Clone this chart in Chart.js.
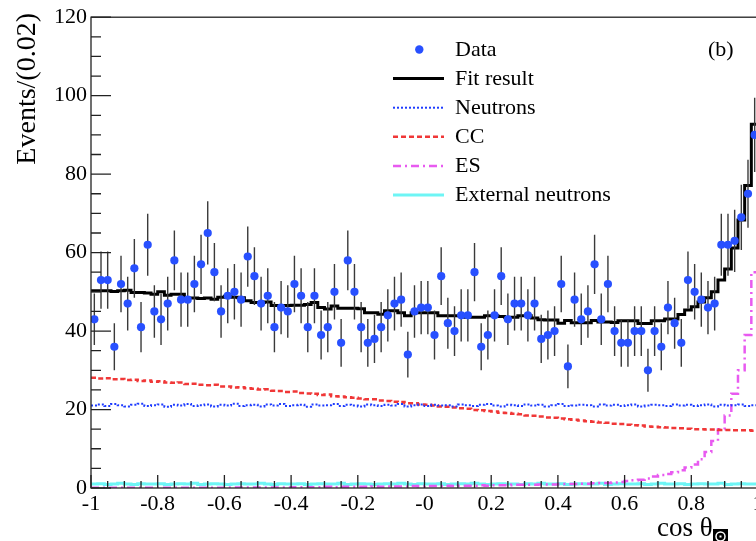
<!DOCTYPE html>
<html>
<head>
<meta charset="utf-8">
<title>cos theta sun distribution</title>
<script src="https://cdn.jsdelivr.net/npm/chart.js@4.4.1/dist/chart.umd.min.js"></script>
<style>
    html, body { margin: 0; padding: 0; background: #fff; overflow: hidden; }
    #wrap { width: 756px; height: 541px; overflow: hidden; }
</style>
</head>
<body>
<div id="wrap"><canvas id="chart" width="770" height="541"></canvas></div>
<script>
// histogram binning
const xMin = -1;
const xMax = 1;
const binWidth = 0.02;

// data points (events per bin)
const dataCounts = [
    43, 53, 53, 36, 52, 47, 56, 41, 62, 45,
    43, 47, 58, 48, 48, 52, 57, 65, 55, 45,
    49, 50, 48, 59, 54, 47, 49, 41, 46, 45,
    52, 49, 41, 49, 39, 41, 50, 37, 58, 50,
    41, 37, 38, 41, 44, 47, 48, 34, 45, 46,
    46, 39, 54, 42, 40, 44, 44, 55, 36, 39,
    44, 54, 43, 47, 47, 44, 47, 38, 39, 40,
    52, 31, 48, 43, 45, 57, 43, 52, 40, 37,
    37, 40, 40, 30, 40, 36, 46, 42, 37, 53,
    50, 48, 46, 47, 62, 62, 63, 69, 75, 90
];

const fitResult = [
    50.3, 50.3, 50.3, 50.1, 50.3, 50.4, 49.8, 49.8, 49.7, 49.4,
    50.0, 49.1, 49.4, 49.4, 48.4, 48.4, 48.3, 48.4, 48.1, 48.6,
    48.9, 48.6, 48.5, 47.7, 47.3, 47.3, 47.4, 46.5, 46.5, 46.5,
    46.6, 46.6, 46.8, 47.3, 46.0, 45.6, 46.4, 45.8, 45.8, 45.8,
    45.7, 44.7, 44.7, 44.3, 45.2, 45.2, 44.7, 43.9, 44.7, 44.7,
    44.7, 44.7, 43.9, 43.9, 43.9, 43.9, 43.5, 43.5, 43.5, 43.9,
    43.9, 43.7, 43.5, 43.5, 43.9, 43.9, 43.3, 42.9, 42.8, 42.8,
    42.0, 42.7, 42.1, 42.1, 42.1, 42.7, 42.3, 42.3, 42.2, 42.6,
    42.6, 42.6, 41.9, 41.9, 42.6, 42.6, 43.1, 43.1, 44.2, 45.4,
    46.2, 47.4, 48.5, 50.0, 53.0, 55.8, 61.2, 68.3, 77.1, 92.7
];

const neutrons = [
    21.0, 21.3, 20.9, 21.4, 21.1, 20.8, 21.2, 21.5, 20.9, 21.1,
    21.3, 20.7, 21.2, 21.0, 21.4, 20.9, 21.1, 21.3, 20.8, 21.2,
    21.0, 21.5, 20.9, 21.1, 21.2, 20.8, 21.3, 21.0, 21.4, 20.9,
    21.1, 21.2, 20.7, 21.3, 21.0, 21.1, 21.4, 20.9, 21.2, 21.0,
    20.8, 21.3, 21.1, 20.9, 21.2, 21.0, 21.4, 20.8, 21.1, 21.3,
    20.9, 21.2, 21.0, 21.1, 20.8, 21.3, 21.1, 20.9, 21.2, 21.4,
    21.0, 20.8, 21.2, 21.1, 20.9, 21.3, 21.0, 21.2, 20.8, 21.1,
    21.4, 20.9, 21.0, 21.2, 21.1, 20.8, 21.3, 21.0, 21.2, 20.9,
    21.1, 21.3, 20.8, 21.0, 21.2, 21.1, 20.9, 21.3, 21.0, 21.2,
    20.9, 21.1, 21.3, 20.8, 21.2, 21.0, 21.1, 21.3, 20.9, 21.1
];

const ccEvents = [
    28.1, 27.9, 28.0, 27.7, 27.8, 27.5, 27.6, 27.3, 27.4, 27.1,
    27.2, 26.9, 26.8, 26.9, 26.5, 26.6, 26.3, 26.2, 26.3, 25.9,
    25.9, 25.6, 25.7, 25.4, 25.3, 25.1, 25.2, 24.8, 24.7, 24.5,
    24.6, 24.2, 24.1, 24.0, 23.7, 23.8, 23.4, 23.3, 23.1, 23.0,
    22.8, 22.6, 22.6, 22.3, 22.2, 22.0, 21.9, 21.6, 21.6, 21.3,
    21.2, 21.0, 20.8, 20.7, 20.5, 20.3, 20.2, 19.9, 19.8, 19.6,
    19.5, 19.2, 19.1, 18.9, 18.8, 18.5, 18.4, 18.2, 18.0, 17.9,
    17.7, 17.5, 17.4, 17.2, 17.0, 16.9, 16.7, 16.6, 16.4, 16.3,
    16.1, 16.0, 15.9, 15.7, 15.6, 15.5, 15.4, 15.3, 15.2, 15.1,
    15.0, 15.0, 14.9, 14.9, 14.8, 14.8, 14.7, 14.7, 14.7, 14.6
];

const esEvents = [
    0.05, 0.05, 0.05, 0.05, 0.05, 0.05, 0.05, 0.05, 0.05, 0.05,
    0.05, 0.05, 0.05, 0.05, 0.05, 0.05, 0.05, 0.05, 0.05, 0.05,
    0.1, 0.1, 0.1, 0.1, 0.1, 0.1, 0.1, 0.1, 0.1, 0.1,
    0.2, 0.2, 0.2, 0.2, 0.2, 0.3, 0.2, 0.3, 0.3, 0.3,
    0.3, 0.3, 0.4, 0.3, 0.4, 0.4, 0.4, 0.4, 0.5, 0.4,
    0.5, 0.5, 0.5, 0.6, 0.5, 0.6, 0.6, 0.6, 0.7, 0.6,
    0.7, 0.7, 0.7, 0.8, 0.8, 0.8, 0.8, 0.9, 0.9, 0.9,
    1.0, 1.0, 1.0, 1.1, 1.1, 1.2, 1.3, 1.3, 1.4, 1.5,
    1.8, 2.0, 2.1, 2.4, 2.9, 3.3, 3.6, 4.0, 4.5, 5.2,
    6.0, 7.3, 9.2, 12.0, 15.0, 18.5, 24.0, 30.0, 39.0, 55.0
];

const externalNeutrons = [
    1.0, 1.1, 0.9, 1.0, 1.2, 1.0, 0.9, 1.1, 1.0, 1.0,
    1.1, 0.9, 1.0, 1.1, 1.0, 1.2, 0.9, 1.0, 1.1, 1.0,
    0.9, 1.0, 1.1, 1.0, 1.0, 1.2, 1.0, 0.9, 1.1, 1.0,
    1.0, 1.1, 0.9, 1.0, 1.1, 1.0, 1.0, 1.2, 0.9, 1.0,
    1.1, 1.0, 0.9, 1.0, 1.1, 1.0, 1.2, 1.0, 0.9, 1.1,
    1.0, 1.0, 1.1, 0.9, 1.0, 1.1, 1.0, 1.2, 1.0, 0.9,
    1.0, 1.1, 1.0, 1.0, 0.9, 1.1, 1.0, 1.2, 1.0, 1.0,
    1.1, 0.9, 1.0, 1.1, 1.0, 1.0, 1.2, 0.9, 1.0, 1.1,
    1.0, 1.0, 1.1, 0.9, 1.0, 1.2, 1.0, 1.0, 1.1, 0.9,
    1.0, 1.1, 1.0, 1.0, 1.2, 0.9, 1.0, 1.1, 1.0, 1.0
];

// axis ticks
const xTickValues = [-1, -0.8, -0.6, -0.4, -0.2, 0, 0.2, 0.4, 0.6, 0.8, 1];
const xTickLabels = ['-1', '-0.8', '-0.6', '-0.4', '-0.2', '-0', '0.2', '0.4', '0.6', '0.8', '1'];
const yTickValues = [0, 20, 40, 60, 80, 100, 120];
const xMinorStep = 0.05;
const yMinorStep = 5;

const serif = "'Liberation Serif', 'Times New Roman', serif";

function binCenter(i) {
    return xMin + (i + 0.5) * binWidth;
}

// left edge of each bin, plus closing point at xMax (drawn stepped)
function histPoints(values) {
    const pts = values.map((v, i) => ({ x: xMin + i * binWidth, y: v }));
    pts.push({ x: xMax, y: values[values.length - 1] });
    return pts;
}

const histStyle = { pointRadius: 0, stepped: true, fill: false, tension: 0 };

const datasets = [
    {
        label: 'Data',
        data: dataCounts.map((v, i) => ({ x: binCenter(i), y: v })),
        showLine: false,
        pointRadius: 4.1,
        pointBackgroundColor: 'rgb(40, 80, 255)',
        pointBorderWidth: 0,
        borderColor: 'rgb(40, 80, 255)'
    },
    Object.assign({ label: 'Fit result', data: histPoints(fitResult), borderColor: '#000', borderWidth: 3 }, histStyle),
    Object.assign({ label: 'Neutrons', data: histPoints(neutrons), borderColor: 'rgb(30, 60, 255)', borderWidth: 2, borderDash: [2, 2] }, histStyle),
    Object.assign({ label: 'CC', data: histPoints(ccEvents), borderColor: 'rgb(240, 55, 55)', borderWidth: 2.5, borderDash: [5, 3] }, histStyle),
    Object.assign({ label: 'ES', data: histPoints(esEvents), borderColor: 'rgb(232, 90, 240)', borderWidth: 2.5, borderDash: [8, 4, 2, 4] }, histStyle),
    Object.assign({ label: 'External neutrons', data: histPoints(externalNeutrons), borderColor: 'rgb(110, 245, 245)', borderWidth: 3 }, histStyle)
];

// ROOT-like frame, inward ticks, titles, legend and error bars
const rootStyle = {
    id: 'rootStyle',
    beforeDatasetDraw(chart, args) {
        if (args.index !== 0) return;
        const { ctx, chartArea } = chart;
        const x = chart.scales.x, y = chart.scales.y;
        ctx.save();
        ctx.beginPath();
        ctx.rect(chartArea.left, chartArea.top, chartArea.width, chartArea.height);
        ctx.clip();
        ctx.strokeStyle = '#3a3a3a';
        ctx.lineWidth = 1.4;
        dataCounts.forEach((n, i) => {
            const err = Math.sqrt(n);
            const px = x.getPixelForValue(binCenter(i));
            ctx.beginPath();
            ctx.moveTo(px, y.getPixelForValue(n - err));
            ctx.lineTo(px, y.getPixelForValue(n + err));
            ctx.stroke();
        });
        ctx.restore();
    },
    afterDraw(chart) {
        const { ctx, chartArea } = chart;
        const x = chart.scales.x, y = chart.scales.y;
        const L = chartArea.left, R = chartArea.right, T = chartArea.top, B = chartArea.bottom;
        ctx.save();

        // frame
        ctx.strokeStyle = '#222';
        ctx.lineWidth = 1.3;
        ctx.strokeRect(L, T, R - L, B - T);

        // y ticks
        ctx.beginPath();
        for (let v = 0; v <= 120; v += yMinorStep) {
            const py = y.getPixelForValue(v);
            const len = yTickValues.includes(v) ? 20 : 10;
            ctx.moveTo(L, py);
            ctx.lineTo(L + len, py);
        }
        // x ticks
        for (let k = 0; k <= Math.round((xMax - xMin) / xMinorStep); k++) {
            const v = xMin + k * xMinorStep;
            const px = x.getPixelForValue(v);
            const len = k % 4 === 0 ? 13 : 7;
            ctx.moveTo(px, B);
            ctx.lineTo(px, B - len);
        }
        ctx.stroke();

        // y title
        ctx.fillStyle = '#000';
        ctx.font = '28px ' + serif;
        ctx.save();
        ctx.translate(35, 13);
        ctx.rotate(-Math.PI / 2);
        ctx.textAlign = 'right';
        ctx.textBaseline = 'alphabetic';
        ctx.fillText('Events/(0.02)', 0, 0);
        ctx.restore();

        // x title
        ctx.font = '27px ' + serif;
        ctx.textAlign = 'left';
        ctx.textBaseline = 'alphabetic';
        ctx.fillText('cos θ', 657, 536);
        ctx.fillRect(713, 529, 15, 15);
        ctx.strokeStyle = '#fff';
        ctx.lineWidth = 1.5;
        ctx.beginPath();
        ctx.arc(720.5, 536.5, 4.5, 0, Math.PI * 2);
        ctx.stroke();
        ctx.fillStyle = '#fff';
        ctx.fillRect(719.5, 535.5, 2, 2);

        // panel tag
        ctx.fillStyle = '#000';
        ctx.font = '22px ' + serif;
        ctx.textBaseline = 'middle';
        ctx.fillText('(b)', 708, 50);

        // legend
        chart.data.datasets.forEach((ds, k) => {
            const ly = 49.5 + k * 29.1;
            if (k === 0) {
                ctx.fillStyle = ds.pointBackgroundColor;
                ctx.beginPath();
                ctx.arc(419.3, ly, 4.2, 0, Math.PI * 2);
                ctx.fill();
            } else {
                ctx.strokeStyle = ds.borderColor;
                ctx.lineWidth = ds.borderWidth;
                ctx.setLineDash(ds.borderDash || []);
                ctx.beginPath();
                ctx.moveTo(393, ly);
                ctx.lineTo(444, ly);
                ctx.stroke();
                ctx.setLineDash([]);
            }
            ctx.fillStyle = '#000';
            ctx.fillText(ds.label, 455, ly + 0.5);
        });

        ctx.restore();
    }
};

new Chart(document.getElementById('chart'), {
    type: 'line',
    data: { datasets: datasets },
    options: {
        responsive: false,
        animation: false,
        devicePixelRatio: 1,
        layout: { padding: { top: 15, right: 12, left: 0, bottom: 0 } },
        plugins: {
            legend: { display: false },
            tooltip: { enabled: false }
        },
        scales: {
            x: {
                type: 'linear',
                min: xMin,
                max: xMax,
                afterBuildTicks: (scale) => { scale.ticks = xTickValues.map(v => ({ value: v })); },
                afterFit: (scale) => { scale.height = 53; },
                ticks: {
                    callback: (value, index) => xTickLabels[index],
                    font: { family: serif, size: 22 },
                    color: '#000',
                    padding: 3,
                    maxRotation: 0,
                    autoSkip: false
                },
                grid: { display: false, drawTicks: false },
                border: { display: false }
            },
            y: {
                type: 'linear',
                min: 0,
                max: 120,
                afterBuildTicks: (scale) => { scale.ticks = yTickValues.map(v => ({ value: v })); },
                afterFit: (scale) => { scale.width = 91; },
                ticks: {
                    font: { family: serif, size: 22 },
                    color: '#000',
                    padding: 4
                },
                grid: { display: false, drawTicks: false },
                border: { display: false }
            }
        }
    },
    plugins: [rootStyle]
});
</script>
</body>
</html>
